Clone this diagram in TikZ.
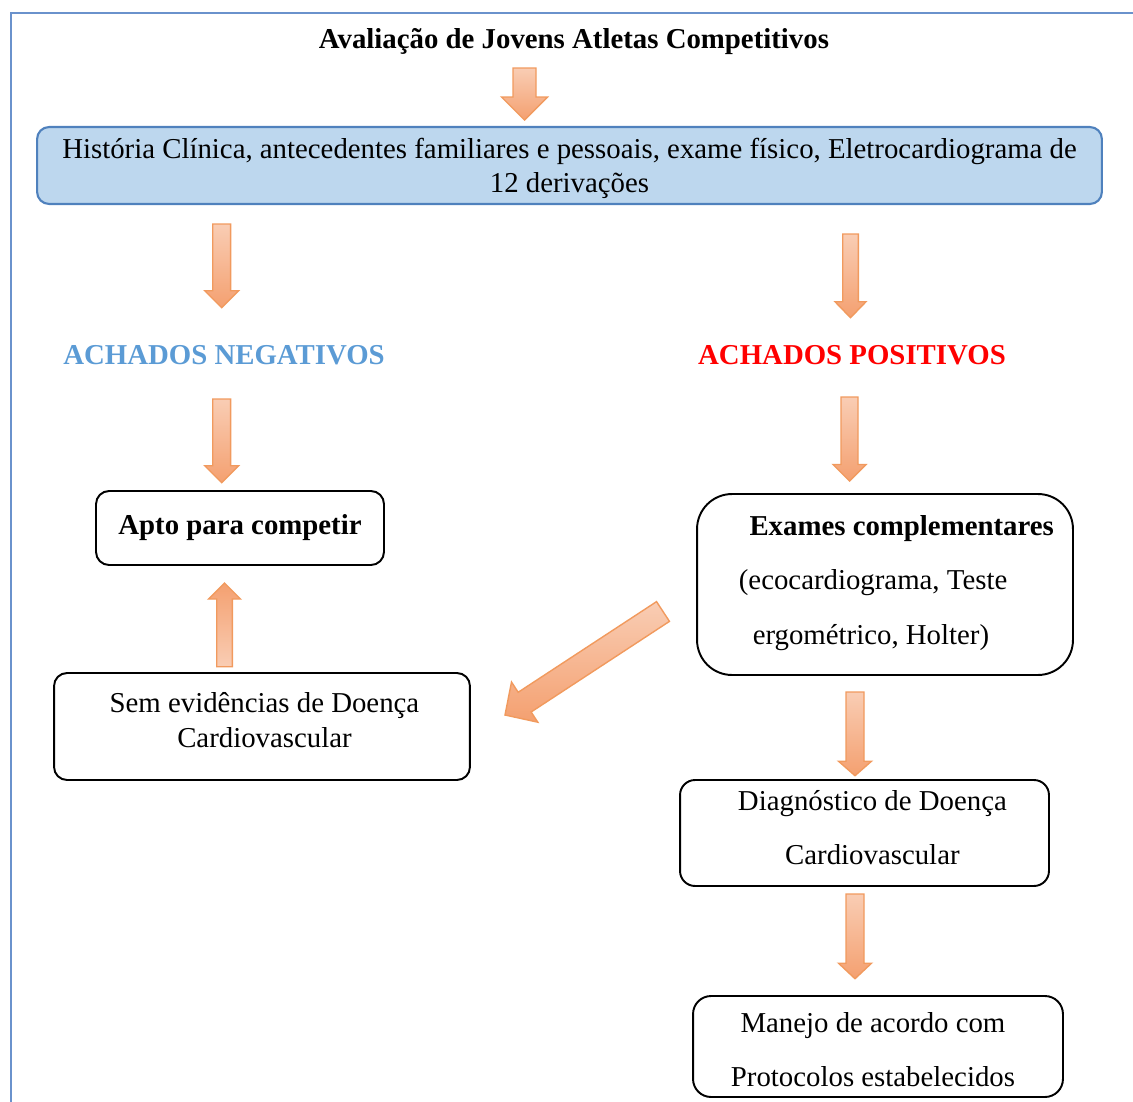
\documentclass[tikz,border=0pt]{standalone}
\usepackage{fontspec}
\setmainfont{Liberation Serif}
\usetikzlibrary{calc}

\definecolor{arrline}{HTML}{F19A5E}
\definecolor{arrtop}{HTML}{F9CDB4}
\definecolor{arrbot}{HTML}{F4A070}
\definecolor{histfill}{HTML}{BDD7EE}
\definecolor{histdraw}{HTML}{4F81BD}
\definecolor{negblue}{HTML}{5B9BD5}
\definecolor{framecol}{HTML}{6A92CC}

% block arrow: [opts]{from}{to}{shaft half width}{head half width}{head length}
\newcommand{\fatarrow}[6][]{%
  \coordinate (fab) at ($(#3)!#6!(#2)$);
  \path[fatarr,#1] ($(#2)!#4!90:(#3)$) -- ($(fab)!#4!90:(#3)$)
    -- ($(fab)!#5!90:(#3)$) -- (#3) -- ($(fab)!#5!-90:(#3)$)
    -- ($(fab)!#4!-90:(#3)$) -- ($(#2)!#4!-90:(#3)$) -- cycle;}

\begin{document}
\begin{tikzpicture}[x=0.02cm, y=-0.02cm,
    txt/.style={font=\fontsize{16.4}{19.7}\selectfont},
    titletxt/.style={font=\fontsize{16.4}{19.7}\selectfont\bfseries},
    findtxt/.style={font=\fontsize{16.4}{19.7}\selectfont\bfseries},
    histbox/.style={txt, rectangle, rounded corners=0.24cm, draw=histdraw,
                fill=histfill, line width=1.2pt, align=center, inner sep=0pt,
                minimum width=21.3cm, minimum height=1.54cm},
    box/.style={txt, rectangle, rounded corners=0.26cm, draw=black,
                line width=1.1pt, align=center, inner sep=0pt},
    wide/.style={font=\fontsize{16.4}{31.2}\selectfont},
    lift/.style={text height=#1, text depth=0pt},
    fatarr/.style={draw=arrline, line width=0.8pt, line join=miter,
                top color=arrtop, bottom color=arrbot},
]
\useasboundingbox (0,0) rectangle (1133,1102);

% --- Frame ---
\draw[framecol, line width=0.8pt] (1133,13) -- (11,13) -- (11,1102);

% --- Boxes and labels ---
\node[titletxt] (title) at (574,42) {Avaliação de Jovens Atletas Competitivos};
\node[histbox, lift=31.2pt] (hist) at (569.5,165.5)
  {História Clínica, antecedentes familiares e pessoais, exame físico, Eletrocardiograma de\\12 derivações};
\node[findtxt, text=negblue] (neg) at (224,355) {ACHADOS NEGATIVOS};
\node[findtxt, text=red] (pos) at (852,355) {ACHADOS POSITIVOS};
\node[box, minimum width=5.76cm, minimum height=1.48cm] (apto) at (240,528)
  {\textbf{Apto para competir}};
\node[box, font=\fontsize{16.4}{20.4}\selectfont, lift=24.4pt,
  minimum width=8.32cm, minimum height=2.14cm] (sem) at (262,726.5)
  {\hspace*{2.8pt}Sem evidências de Doença\\\hspace*{2.8pt}Cardiovascular};
\node[box, wide, lift=68.6pt, rounded corners=0.7cm,
  minimum width=7.52cm, minimum height=3.62cm] (exames) at (885,584.5)
  {\hspace*{19pt}\textbf{Exames complementares}\\
   \hspace*{-13.6pt}(ecocardiograma, Teste\\
   ergométrico, Holter)\hspace*{16pt}};
\node[box, wide, lift=36.3pt, rounded corners=0.3cm,
  minimum width=7.38cm, minimum height=2.12cm] (diag) at (864.5,833)
  {\hspace*{9pt}Diagnóstico de Doença\\\hspace*{9pt}Cardiovascular};
\node[box, wide, lift=45.9pt, rounded corners=0.36cm,
  minimum width=7.4cm, minimum height=2.02cm] (manejo) at (878,1046.5)
  {Manejo de acordo com\hspace*{5.7pt}\\Protocolos estabelecidos\hspace*{5.7pt}};

% --- Arrow ends ---
\coordinate (a0s) at (524.5,68);   \coordinate (a0e) at (524.5,120);
\coordinate (a1s) at (221.7,224);  \coordinate (a1e) at (221.7,307.7);
\coordinate (a2s) at (850.5,234);  \coordinate (a2e) at (850.5,317.7);
\coordinate (a3s) at (221.7,399);  \coordinate (a3e) at (221.7,482.7);
\coordinate (a4s) at (849.5,397);  \coordinate (a4e) at (849.5,481);
\coordinate (a5s) at (224.5,666.7); \coordinate (a5e) at (224.5,583);
\coordinate (a6s) at (663,611.5);  \coordinate (a6e) at (505,715);
\coordinate (a7s) at (855,692);    \coordinate (a7e) at (855,775.7);
\coordinate (a8s) at (855,894);    \coordinate (a8e) at (855,978.7);

% --- Block arrows ---
\fatarrow{a0s}{a0e}{0.23cm}{0.46cm}{0.46cm}
\fatarrow{a1s}{a1e}{0.18cm}{0.34cm}{0.34cm}
\fatarrow{a2s}{a2e}{0.156cm}{0.31cm}{0.32cm}
\fatarrow{a3s}{a3e}{0.18cm}{0.34cm}{0.34cm}
\fatarrow{a4s}{a4e}{0.17cm}{0.33cm}{0.33cm}
\fatarrow[shading angle=180]{a5s}{a5e}{0.156cm}{0.32cm}{0.32cm}
\fatarrow{a6s}{a6e}{0.236cm}{0.48cm}{0.47cm}
\fatarrow{a7s}{a7e}{0.18cm}{0.33cm}{0.29cm}
\fatarrow{a8s}{a8e}{0.18cm}{0.33cm}{0.31cm}

\end{tikzpicture}
\end{document}
